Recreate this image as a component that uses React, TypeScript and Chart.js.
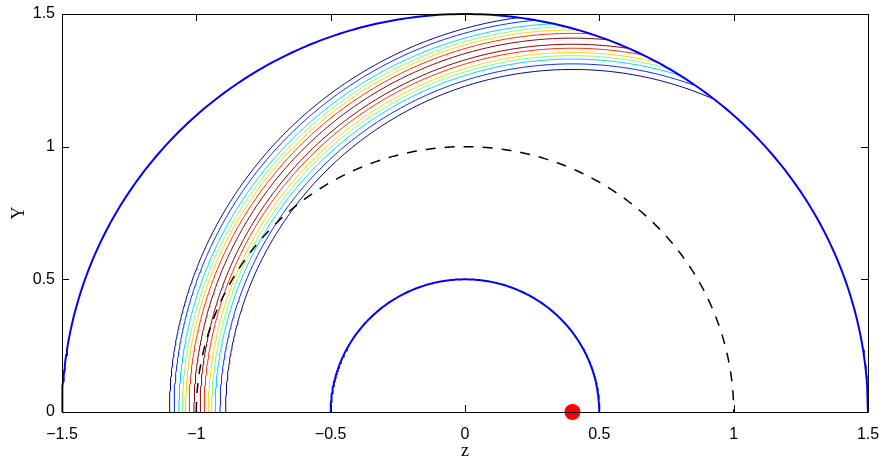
import React, { useEffect, useRef } from "react";
import { Chart, registerables } from "chart.js";

Chart.register(...registerables);

// ---- data ----
const xTickValues = [-1.5, -1, -0.5, 0, 0.5, 1, 1.5];
const xTickLabels = ["\u22121.5", "\u22121", "\u22120.5", "0", "0.5", "1", "1.5"];
const yTickValues = [0, 0.5, 1, 1.5];
const yTickLabels = ["0", "0.5", "1", "1.5"];

// blue boundary semicircles (centred at origin)
const blueRadii = [1.5, 0.5];
// dashed black semicircle (centred at origin)
const dashedRadius = [1.0];
// source point (red dot)
const sourceX = [0.4];
const sourceY = [0];
// contour circles, centred on the source point, clipped by the outer boundary
const contourRadii = [1.5, 1.483, 1.465, 1.452, 1.44, 1.427, 1.409, 1.386, 1.371, 1.355, 1.343, 1.33, 1.312, 1.291];
const contourColors = [
  "#00008F", "#002BFF", "#00D4FF", "#80FF80", "#FFD400", "#FF2B00", "#800000",
  "#800000", "#FF2B00", "#FFD400", "#80FF80", "#00D4FF", "#002BFF", "#00008F",
];

const N = 240;

function semicircle(cx: number, r: number) {
  const pts: { x: number; y: number }[] = [];
  for (let i = 0; i <= N; i++) {
    const a = Math.PI - (Math.PI * i) / N;
    pts.push({ x: cx + r * Math.cos(a), y: r * Math.sin(a) });
  }
  return pts;
}

// arc of circle (cx, r) from the left axis crossing up to where it meets the outer circle R
function clippedArc(cx: number, r: number, R: number) {
  const xi = (R * R - r * r + cx * cx) / (2 * cx);
  let aEnd = 0;
  if (xi < cx + r) {
    aEnd = Math.acos(Math.max(-1, Math.min(1, (xi - cx) / r)));
  }
  const pts: { x: number; y: number }[] = [];
  for (let i = 0; i <= N; i++) {
    const a = Math.PI - ((Math.PI - aEnd) * i) / N;
    pts.push({ x: cx + r * Math.cos(a), y: r * Math.sin(a) });
  }
  return pts;
}

const boxPlugin = {
  id: "matlabBox",
  afterDraw(chart: any) {
    const { ctx, chartArea } = chart;
    const { left, right, top, bottom } = chartArea;
    const xs = chart.scales.x;
    const ys = chart.scales.y;
    const tl = 7;
    ctx.save();
    ctx.strokeStyle = "#000";
    ctx.lineWidth = 1;
    ctx.beginPath();
    for (const v of xTickValues) {
      const px = Math.round(xs.getPixelForValue(v)) + 0.5;
      ctx.moveTo(px, bottom);
      ctx.lineTo(px, bottom - tl);
      ctx.moveTo(px, top);
      ctx.lineTo(px, top + tl);
    }
    for (const v of yTickValues) {
      const py = Math.round(ys.getPixelForValue(v)) + 0.5;
      ctx.moveTo(left, py);
      ctx.lineTo(left + tl, py);
      ctx.moveTo(right, py);
      ctx.lineTo(right - tl, py);
    }
    ctx.stroke();
    ctx.beginPath();
    ctx.rect(Math.round(left) + 0.5, Math.round(top) + 0.5, Math.round(right - left), Math.round(bottom - top));
    ctx.stroke();
    ctx.restore();
  },
};

export default function App() {
  const ref = useRef<HTMLCanvasElement | null>(null);

  useEffect(() => {
    if (!ref.current) return;
    const datasets: any[] = [];

    contourRadii.forEach((r, i) => {
      datasets.push({
        data: clippedArc(sourceX[0], r, blueRadii[0]),
        borderColor: contourColors[i],
        borderWidth: 1,
        pointRadius: 0,
        showLine: true,
        fill: false,
        order: 5,
      });
    });

    datasets.push({
      data: semicircle(0, dashedRadius[0]),
      borderColor: "#000",
      borderWidth: 1.5,
      borderDash: [10, 9],
      pointRadius: 0,
      showLine: true,
      fill: false,
      order: 3,
    });

    blueRadii.forEach((r) => {
      datasets.push({
        data: semicircle(0, r),
        borderColor: "#0000FF",
        borderWidth: 2,
        pointRadius: 0,
        showLine: true,
        fill: false,
        clip: false,
        order: 2,
      });
    });

    datasets.push({
      data: sourceX.map((x, i) => ({ x, y: sourceY[i] })),
      backgroundColor: "#FF0000",
      borderColor: "#FF0000",
      borderWidth: 0,
      pointRadius: 8,
      showLine: false,
      clip: false,
      order: 0,
    });

    const chart = new Chart(ref.current, {
      type: "scatter",
      data: { datasets },
      options: {
        animation: false,
        responsive: false,
        devicePixelRatio: 1,
        layout: { padding: { top: 14, right: 15, left: 0, bottom: 0 } },
        plugins: { legend: { display: false }, tooltip: { enabled: false } },
        scales: {
          x: {
            type: "linear",
            min: -1.5,
            max: 1.5,
            afterBuildTicks: (scale: any) => {
              scale.ticks = xTickValues.map((v) => ({ value: v }));
            },
            afterFit: (scale: any) => {
              scale.height = 46;
              scale.paddingLeft = 0;
              scale.paddingRight = 0;
            },
            ticks: {
              autoSkip: false,
              maxRotation: 0,
              padding: 13,
              color: "#000",
              font: { family: "'Liberation Sans', Arial, sans-serif", size: 16 },
              callback: (v: any) => {
                const i = xTickValues.indexOf(Number(v));
                return i >= 0 ? xTickLabels[i] : "";
              },
            },
            grid: { display: false, drawTicks: false },
            border: { display: false },
            title: {
              display: true,
              text: "z",
              color: "#000",
              font: { family: "'Liberation Serif', 'Times New Roman', serif", size: 18 },
              padding: { top: 0, bottom: -4 },
            },
          },
          y: {
            type: "linear",
            min: 0,
            max: 1.5,
            afterBuildTicks: (scale: any) => {
              scale.ticks = yTickValues.map((v) => ({ value: v }));
            },
            afterFit: (scale: any) => {
              scale.width = 62;
              scale.paddingTop = 0;
              scale.paddingBottom = 0;
            },
            ticks: {
              autoSkip: false,
              padding: 7,
              color: "#000",
              font: { family: "'Liberation Sans', Arial, sans-serif", size: 16 },
              callback: (v: any) => {
                const i = yTickValues.indexOf(Number(v));
                return i >= 0 ? yTickLabels[i] : "";
              },
            },
            grid: { display: false, drawTicks: false },
            border: { display: false },
            title: {
              display: true,
              text: "Y",
              color: "#000",
              font: { family: "'Liberation Serif', 'Times New Roman', serif", size: 18 },
              padding: { top: 8, bottom: 0 },
            },
          },
        },
      },
      plugins: [boxPlugin],
    });
    return () => chart.destroy();
  }, []);

  return (
    <div style={{ position: "fixed", left: 0, top: 0, width: 883, height: 458, background: "#fff" }}>
      <canvas ref={ref} width={883} height={458} style={{ display: "block" }} />
    </div>
  );
}
